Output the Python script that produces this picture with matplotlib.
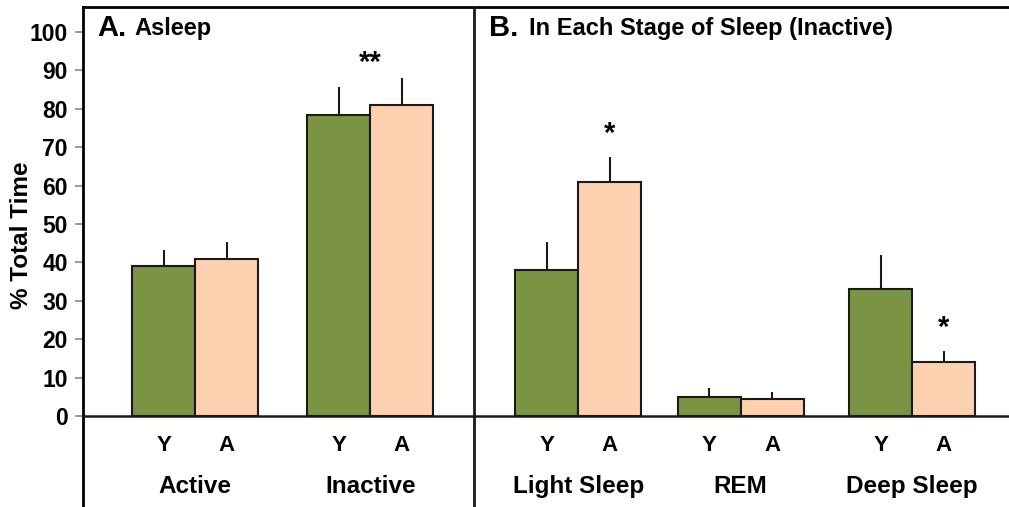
import matplotlib.pyplot as plt
import numpy as np

plt.rcParams['font.family'] = ['Liberation Sans', 'DejaVu Sans']
plt.rcParams['font.weight'] = 'bold'

groups = ['Active', 'Inactive', 'Light Sleep', 'REM', 'Deep Sleep']
young = [39, 78.3, 38, 5.0, 33]
young_err = [4.3, 7.3, 7.2, 2.2, 9]
aged = [41, 81.1, 61, 4.3, 14]
aged_err = [4.3, 6.8, 6.5, 1.9, 3]
stars = ['', '**', '*', '', '*']
star_y = [None, 92, 73.5, None, 23]

# layout (bar width = 1 unit)
centers = np.array([1.78, 4.56, 7.86, 10.44, 13.16])
green = '#7a9444'
peach = '#fdd0b0'

fig = plt.figure(figsize=(10.09, 5.07), dpi=100)
ax = fig.add_axes([83 / 1009, 0, 1.0, 1 - 7 / 507])
ax.set_xlim(0, 1009 / 63)
ax.set_ylim(-23.7, 106.5)

ax.bar(centers - 0.5, young, width=1, color=green, edgecolor='#1a1a1a', linewidth=1.5, zorder=3)
ax.bar(centers + 0.5, aged, width=1, color=peach, edgecolor='#1a1a1a', linewidth=1.5, zorder=3)
ax.errorbar(centers - 0.5, young, yerr=[np.zeros(5), young_err], fmt='none',
            ecolor='#1a1a1a', elinewidth=1.5, capsize=0, zorder=2)
ax.errorbar(centers + 0.5, aged, yerr=[np.zeros(5), aged_err], fmt='none',
            ecolor='#1a1a1a', elinewidth=1.5, capsize=0, zorder=2)

for c, s, sy in zip(centers, stars, star_y):
    if s:
        xs = c if s == '**' else c + 0.5
        ax.text(xs, sy, s, ha='center', va='center', fontsize=21, fontweight='bold')

for c, g in zip(centers, groups):
    ax.text(c - 0.5, -7.6, 'Y', ha='center', va='center', fontsize=16, fontweight='bold')
    ax.text(c + 0.5, -7.6, 'A', ha='center', va='center', fontsize=16, fontweight='bold')
    ax.text(c, -18.3, g, ha='center', va='center', fontsize=17.5, fontweight='bold')

ax.axhline(0, color='#1a1a1a', linewidth=1.8, zorder=4)
ax.axvline(6.21, color='#1a1a1a', linewidth=2, zorder=4)

ax.text(0.22, 101.0, 'A.', fontsize=21, fontweight='bold', va='center')
ax.text(0.82, 101.0, 'Asleep', fontsize=17, fontweight='bold', va='center')
ax.text(6.45, 101.0, 'B.', fontsize=21, fontweight='bold', va='center')
ax.text(7.08, 101.0, 'In Each Stage of Sleep (Inactive)', fontsize=17, fontweight='bold', va='center')

for sp in ['right', 'bottom']:
    ax.spines[sp].set_visible(False)
ax.spines['left'].set_linewidth(2)
ax.spines['top'].set_linewidth(2)

ax.set_xticks([])
ax.set_yticks(range(0, 101, 10))
ax.tick_params(axis='y', length=6, color='#888888', width=1.2, labelsize=16.5, pad=5)
for lb in ax.get_yticklabels():
    lb.set_fontweight('bold')
ax.set_ylabel('% Total Time', fontsize=17.5, fontweight='bold')
ax.yaxis.set_label_coords(-(83 - 33) / 1009, (507 - 235) / 500)

fig.savefig('out.png', dpi=100)
